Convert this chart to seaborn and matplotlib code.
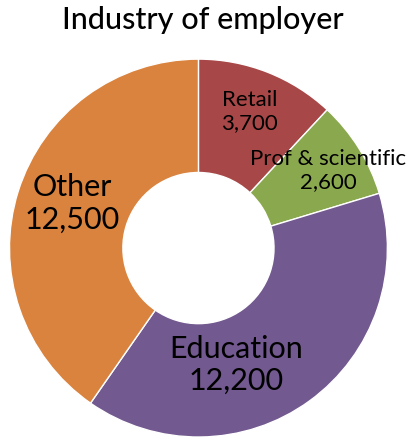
import numpy as np
import matplotlib
matplotlib.use("Agg")
import matplotlib.pyplot as plt
import seaborn as sns

# 데이터
industries = ["Retail", "Prof & scientific", "Education", "Other"]
employees = [3700, 2600, 12200, 12500]
colors = ["#A84747", "#8AA84E", "#72598F", "#D9833E"]

# 라벨 위치 조정 (반지름 비율, 각도 보정)
label_r = [0.77, 0.80, 0.65, 0.71]
label_shift = [1, -1, -18, -2]
label_size = [16, 16, 22, 22]

sns.set_theme(style="white")
plt.rcParams["font.family"] = ["Lato", "DejaVu Sans"]
plt.rcParams["text.color"] = "black"

fig = plt.figure(figsize=(4.13, 4.41), dpi=100)
ax = fig.add_axes([0.023, 0.009, 0.915, 0.857])

wedges, _ = ax.pie(employees, colors=colors, startangle=90, counterclock=False,
                   wedgeprops=dict(width=0.6, edgecolor="white", linewidth=1))
ax.set_xlim(-1, 1)
ax.set_ylim(-1, 1)
ax.set_aspect("equal")

for w, name, val, r, s, fs in zip(wedges, industries, employees, label_r, label_shift, label_size):
    ang = np.deg2rad((w.theta1 + w.theta2) / 2 + s)
    ax.text(r * np.cos(ang), r * np.sin(ang), f"{name}\n{val:,}",
            ha="center", va="center", fontsize=fs, color="black", linespacing=1.2)

fig.text(0.49, 0.955, "Industry of employer", ha="center", va="center",
         fontsize=22, color="black", fontweight="medium")

fig.savefig("out.png", dpi=100)
